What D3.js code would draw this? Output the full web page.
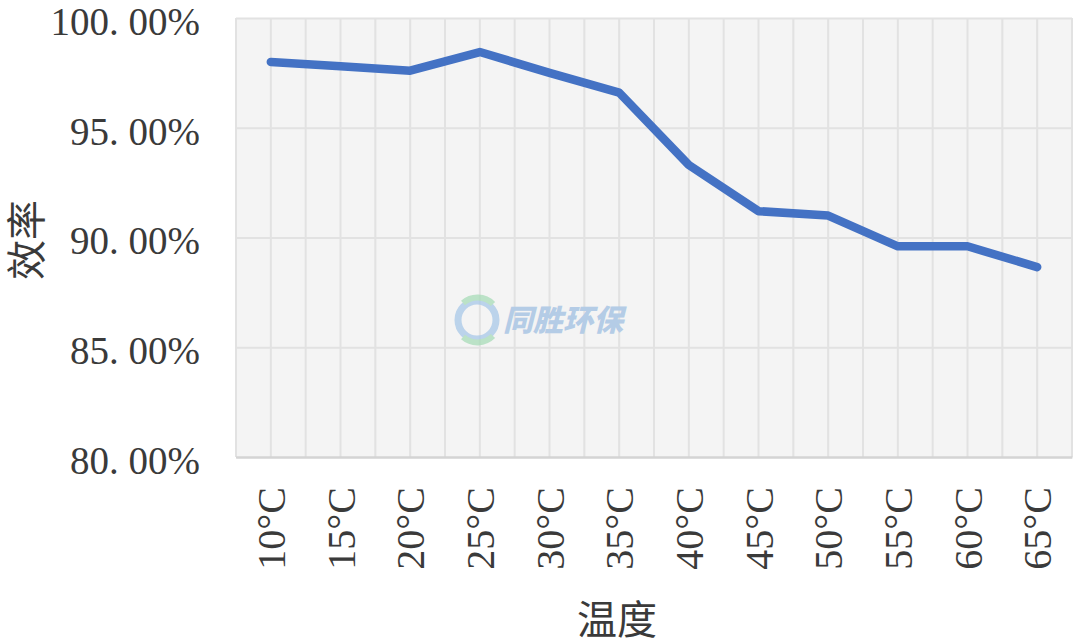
<!DOCTYPE html>
<html><head><meta charset="utf-8">
<script src="https://cdn.jsdelivr.net/npm/d3@7"></script>
<style>body{margin:0;background:#fff}</style>
</head><body>
<svg id="c" width="1080" height="644"></svg>
<script>
const categories = ["10°C","15°C","20°C","25°C","30°C","35°C","40°C","45°C","50°C","55°C","60°C","65°C"];
const efficiency = [98.0, 97.8, 97.6, 98.45, 97.5, 96.6, 93.3, 91.2, 91.0, 89.6, 89.6, 88.65];
const yTicks = [80, 85, 90, 95, 100];
const yTickLabels = ["80. 00%","85. 00%","90. 00%","95. 00%","100. 00%"];
const xTitle = "温度";
const yTitle = "效率";

const svg = d3.select("#c");
const L = 236, R = 1072, T = 18, B = 457;
const x = d3.scaleBand().domain(categories).range([L, R]);
const y = d3.scaleLinear().domain([80, 100]).range([B, T]);
const font = "'Liberation Serif','Noto Sans CJK SC',serif";

svg.append("rect").attr("x", L).attr("y", T).attr("width", R-L).attr("height", B-T).attr("fill", "#f4f4f4");

const vx = [];
categories.forEach(c => { vx.push(x(c)); vx.push(x(c) + x.bandwidth()/2); });
vx.push(R);
svg.append("g").selectAll("line").data(vx).join("line")
  .attr("x1", d => d).attr("x2", d => d).attr("y1", T).attr("y2", B)
  .attr("stroke", "#e2e2e2").attr("stroke-width", 2);

const yAxis = d3.axisLeft(y).tickValues(yTicks).tickSize(-(R-L))
  .tickFormat((d,i) => yTickLabels[i]).tickPadding(36);
const gy = svg.append("g").attr("transform", `translate(${L},0)`).call(yAxis);
gy.select(".domain").remove();
gy.selectAll(".tick line").attr("stroke", "#e2e2e2").attr("stroke-width", 2);
gy.selectAll(".tick text").attr("font-family", font).attr("font-size", 39).attr("fill", "#3a3a3a")
  .attr("y", 4);
gy.selectAll(".tick").filter(d => d === 80).select("line").attr("stroke", "#d4d4d4");

const xAxis = d3.axisBottom(x).tickSize(0).tickPadding(0);
const gx = svg.append("g").attr("transform", `translate(0,${B})`).call(xAxis);
gx.select(".domain").attr("stroke", "#d4d4d4").attr("stroke-width", 2);
gx.selectAll(".tick text")
  .attr("font-family", font).attr("font-size", 40).attr("fill", "#3a3a3a")
  .attr("transform", "rotate(-90)")
  .attr("text-anchor", "end").attr("dy", "0.35em").attr("x", -30).attr("y", 0);

// watermark
const wm = svg.append("g").attr("transform", "translate(477,320)").attr("opacity", 0.75);
wm.append("circle").attr("r", 19).attr("fill", "none").attr("stroke", "#a8c8e8").attr("stroke-width", 7);
wm.append("path").attr("d", "M-14,-17 A22,22 0 0 1 16,-16").attr("fill","none").attr("stroke","#a8dcb8").attr("stroke-width",6);
wm.append("path").attr("d", "M-14,17 A22,22 0 0 0 16,16").attr("fill","none").attr("stroke","#a8dcb8").attr("stroke-width",6);
svg.append("text").attr("x", 503).attr("y", 331).attr("font-family", "'Noto Sans CJK SC',sans-serif")
  .attr("font-weight", 900).attr("font-style", "italic").attr("font-size", 30).attr("fill", "#b4cce6")
  .text("同胜环保");

const line = d3.line().x((d,i) => x(categories[i]) + x.bandwidth()/2).y(d => y(d));
svg.append("path").datum(efficiency).attr("d", line)
  .attr("fill", "none").attr("stroke", "#4472c4").attr("stroke-width", 8.5)
  .attr("stroke-linejoin", "round").attr("stroke-linecap", "round");

svg.append("text").attr("transform", "translate(27,240) rotate(-90)")
  .attr("text-anchor", "middle").attr("dy", "0.35em")
  .attr("font-family", font).attr("font-size", 40).attr("fill", "#3a3a3a").text(yTitle);
svg.append("text").attr("x", 617).attr("y", 634)
  .attr("text-anchor", "middle")
  .attr("font-family", font).attr("font-size", 40).attr("fill", "#3a3a3a").text(xTitle);
</script>
</body></html>
